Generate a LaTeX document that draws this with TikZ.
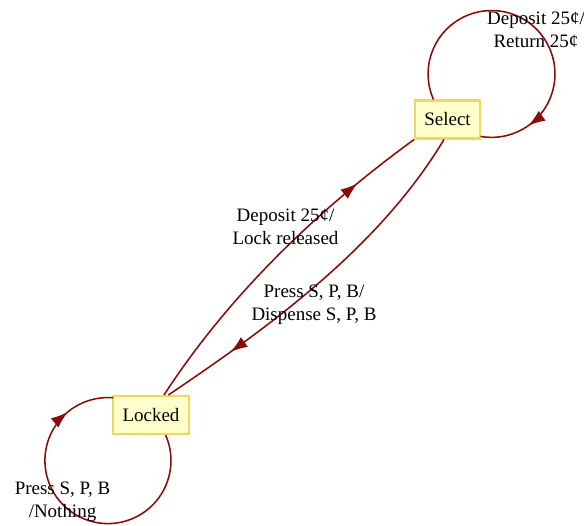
\documentclass[tikz,border=0pt]{standalone}
\usepackage{fontspec}
\setmainfont{Liberation Serif}
\usetikzlibrary{arrows.meta,decorations.markings}
\definecolor{EdgeRed}{HTML}{8B0A0A}
\definecolor{StateFill}{HTML}{FFFFCC}
\definecolor{StateLine}{HTML}{EFD766}

\begin{document}
\begin{tikzpicture}[x=0.025cm,y=0.025cm,every node/.style={font=\fontsize{13.5}{16.5}\selectfont,align=center},state/.style={draw=StateLine,fill=StateFill,line width=1.5pt,inner xsep=6.5pt,minimum height=27pt},trans/.style={draw=EdgeRed,line width=1.1pt},markat/.style={postaction={decorate},decoration={markings,mark=at position #1 with {\arrow[EdgeRed]{Latex[length=4.2mm,width=3mm]}}}}]
\useasboundingbox (0,0) rectangle (584,525);

\node[state] (sel) at (447.5,405.5) {Select}; \node[state] (loc) at (151,110) {Locked};
\draw[trans,markat=0.85] (sel.125) arc[start angle=203.7,end angle=-100,radius=1.585cm];
\draw[trans,markat=0.85] (loc.-54) arc[start angle=23.9,end angle=-275,radius=1.575cm];
\draw[trans,markat=0.8] (loc.57) to[out=57,in=-144,looseness=0.85] (sel.south west);
\draw[trans,markat=0.8] (sel.-100) to[out=-121,in=34,looseness=0.85] (loc.49);

\node (lblsel) at (536,495) {Deposit 25¢/\\Return 25¢}; \node (lblloc) at (62.5,23.5) {Press S, P, B\\/Nothing};
\node (lblup) at (285.5,298.5) {Deposit 25¢/\\Lock released}; \node (lbldown) at (314,220) {Press S, P, B/\\Dispense S, P, B};

\end{tikzpicture}
\end{document}
